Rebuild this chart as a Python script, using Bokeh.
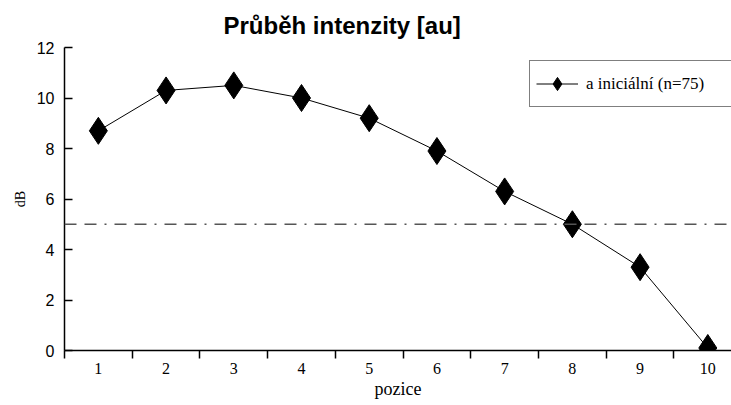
from bokeh.plotting import figure
from bokeh.models import FixedTicker, Span, Legend, LegendItem, Title, Range1d
from bokeh.embed import file_html
from bokeh.resources import INLINE

positions = [1, 2, 3, 4, 5, 6, 7, 8, 9, 10]
values = [8.7, 10.3, 10.5, 10.0, 9.2, 7.9, 6.3, 5.0, 3.3, 0.1]
threshold = 5
y_ticks = [0, 2, 4, 6, 8, 10, 12]
series_label = "a iniciální (n=75)"

p = figure(width=731, height=405, output_backend="svg", toolbar_location=None,
           x_range=Range1d(0.5, 10.35), y_range=Range1d(0, 12),
           min_border_left=64, min_border_right=0, min_border_top=47, min_border_bottom=55)
p.outline_line_color = None
p.grid.visible = False
p.background_fill_color = "white"
p.border_fill_color = "white"

t = Title(text="Průběh intenzity [au]", align="left", offset=159,
          text_font="Liberation Sans", text_font_size="24px", text_font_style="bold",
          text_color="black", standoff=17)
p.add_layout(t, "above")

span = Span(location=threshold, dimension="width", line_color="#555555",
            line_width=1.5, line_dash="12 8 12 8 2 8")
p.add_layout(span)

r_line = p.line(positions, values, line_color="black", line_width=1)
r_pts = p.scatter(positions, values, marker="diamond", size=27,
                  fill_color="black", line_color="black")

# x axis
xa = p.xaxis[0]
xa.ticker = FixedTicker(ticks=positions, minor_ticks=[i + 0.5 for i in range(0, 10)])
xa.major_tick_line_color = None
xa.major_tick_in = 0
xa.major_tick_out = 8
xa.minor_tick_in = 0
xa.minor_tick_out = 8
xa.minor_tick_line_color = "black"
xa.minor_tick_line_width = 1.5
xa.axis_line_color = "black"
xa.axis_line_width = 1.5
xa.major_label_text_font = "Liberation Serif"
xa.major_label_text_font_size = "16px"
xa.major_label_text_color = "black"
xa.major_label_standoff = 4
xa.axis_label = "pozice"
xa.axis_label_text_font = "Liberation Serif"
xa.axis_label_text_font_size = "18px"
xa.axis_label_text_font_style = "normal"
xa.axis_label_text_color = "black"
xa.axis_label_standoff = 2

ya = p.yaxis[0]
ya.ticker = FixedTicker(ticks=y_ticks)
ya.major_tick_in = 8
ya.major_tick_out = 0
ya.major_tick_line_width = 1.5
ya.minor_tick_line_color = None
ya.axis_line_color = "black"
ya.axis_line_width = 1.5
ya.major_label_text_font = "Liberation Sans"
ya.major_label_text_font_size = "16px"
ya.major_label_text_color = "black"
ya.major_label_standoff = 10
ya.axis_label = "dB"
ya.axis_label_text_font = "Liberation Serif"
ya.axis_label_text_font_size = "14px"
ya.axis_label_text_font_style = "normal"
ya.axis_label_text_color = "black"
ya.axis_label_standoff = 6

legend = Legend(items=[LegendItem(label=series_label, renderers=[r_line, r_pts])],
                location=(465, 243), border_line_color="black", border_line_width=1.5,
                label_text_font="Liberation Serif", label_text_font_size="17px",
                label_text_color="black", label_width=140,
                glyph_width=42, glyph_height=33, padding=6, label_standoff=8,
                margin=0, background_fill_alpha=1)
p.add_layout(legend)

open("out.html", "w").write(file_html(p, INLINE))
